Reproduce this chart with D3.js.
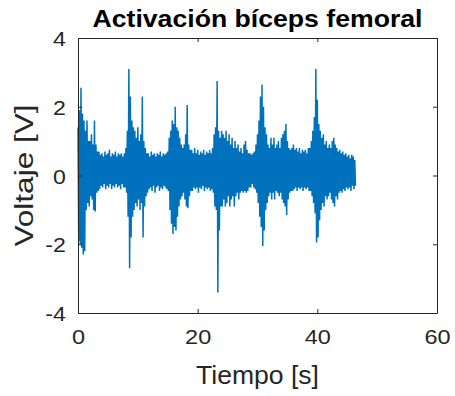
<!DOCTYPE html>
<html>
<head>
<meta charset="utf-8">
<script src="https://cdn.jsdelivr.net/npm/d3@7"></script>
<style>
  html, body { margin: 0; padding: 0; background: #fff; }
  svg { display: block; }
</style>
</head>
<body>
<svg id="chart" width="455" height="396"></svg>
<script>
// ---- data ----
const titleText = "Activación bíceps femoral";
const xLabelText = "Tiempo [s]";
const yLabelText = "Voltaje [V]";
const xTicks = [0, 20, 40, 60];
const yTicks = [-4, -2, 0, 2, 4];
const xDomain = [0, 60];
const yDomain = [-4, 4];
const sampleStep = 0.25; // s between envelope samples
// upper extreme of the signal at each sample
const vHigh = [
  1.4, 1.9, 2.55, 1.8, 1.6, 1.3, 1.6, 1.0, 1.0, 1.2, 0.9, 1.6, 0.9, 0.7,
  0.7, 0.6, 0.65, 0.55, 0.7, 0.6, 0.65, 0.75, 0.55, 0.65, 0.6, 0.7, 0.55, 0.65, 0.6, 0.65, 0.55, 0.65, 0.8,
  1.3, 3.1, 2.3, 1.6, 1.4, 1.3, 1.1, 1.4, 1.0, 1.2, 2.3, 1.0, 0.8, 0.65,
  0.65, 0.55, 0.7, 0.6, 0.65, 0.55, 0.65, 0.6, 0.7, 0.55, 0.65, 0.6, 0.65, 0.7,
  1.1, 1.3, 1.6, 1.5, 2.0, 1.4, 1.3, 1.1, 0.9, 0.8, 0.9, 1.2, 2.05, 0.9, 0.75,
  0.75, 0.65, 0.8, 0.65, 0.75, 0.6, 0.7, 0.65, 0.75, 0.6, 0.7, 0.65, 0.75, 0.65, 0.8,
  1.2, 1.4, 2.75, 1.3, 1.1, 1.3, 1.2, 1.1, 1.3, 1.0, 1.2, 0.9, 1.1, 0.8, 1.0, 0.8, 0.9, 0.7, 0.8, 0.65, 0.9, 1.0, 0.75, 0.65,
  0.65, 0.6, 0.65, 0.7, 0.9,
  1.2, 1.6, 2.3, 2.65, 2.0, 1.4, 1.2, 0.9, 0.8, 1.1,
  0.9, 1.1, 0.8, 0.9, 1.0, 0.8, 1.1, 1.2, 1.3, 1.5, 1.0, 0.8, 0.75,
  0.8, 0.9, 0.75, 0.8, 0.7, 0.8, 0.65, 0.75, 0.7, 0.75, 0.65, 0.8, 0.8, 1.0, 1.3,
  1.7, 3.1, 2.2, 1.5, 1.3, 1.1, 1.2, 0.9, 1.0,
  0.8, 0.9, 0.8, 1.0, 1.1, 0.9, 0.8, 0.7, 0.75, 0.65, 0.7, 0.6, 0.65, 0.55, 0.6, 0.5, 0.6, 0.55, 0.45
];
// lower extreme of the signal at each sample
const vLow = [
  -1.9, -2.0, -2.1, -2.3, -2.2, -1.0, -0.8, -0.9, -0.6, -0.7, -1.0, -1.05, -0.5, -0.45,
  -0.4, -0.3, -0.35, -0.25, -0.4, -0.3, -0.35, -0.25, -0.4, -0.3, -0.35, -0.25, -0.35, -0.3, -0.4, -0.25, -0.35, -0.35, -0.5,
  -1.2, -2.7, -1.8, -1.2, -1.0, -0.8, -0.9, -0.7, -1.0, -0.8, -1.8, -0.9, -0.6, -0.5,
  -0.4, -0.35, -0.45, -0.3, -0.5, -0.35, -0.3, -0.45, -0.35, -0.4, -0.3, -0.35, -0.4, -0.45,
  -1.0, -1.4, -1.7, -1.5, -1.6, -1.2, -0.9, -0.7, -0.6, -0.5, -0.7, -0.9, -0.95, -0.6, -0.45,
  -0.45, -0.35, -0.4, -0.35, -0.5, -0.35, -0.4, -0.3, -0.45, -0.35, -0.4, -0.35, -0.45, -0.4, -0.5,
  -0.9, -1.0, -3.4, -1.6, -0.9, -0.9, -0.7, -0.9, -0.8, -0.6, -0.9, -0.7, -0.6, -0.9, -0.6, -0.5, -0.7, -0.5, -0.45, -0.5, -0.45, -0.5, -0.45, -0.35,
  -0.35, -0.25, -0.35, -0.4, -0.5,
  -0.8, -1.2, -1.5, -2.05, -1.6, -1.0, -0.8, -0.6, -0.5, -0.7,
  -0.5, -0.7, -0.45, -0.5, -0.6, -0.5, -0.7, -0.8, -0.9, -1.15, -0.7, -0.5, -0.45,
  -0.45, -0.4, -0.35, -0.45, -0.35, -0.4, -0.35, -0.45, -0.35, -0.4, -0.35, -0.45, -0.45, -0.6, -0.8,
  -1.1, -1.95, -1.8, -1.3, -1.0, -0.8, -0.9, -0.6, -0.7,
  -0.6, -0.5, -0.7, -0.8, -0.9, -0.6, -0.7, -0.5, -0.45, -0.5, -0.4, -0.45, -0.35, -0.4, -0.35, -0.45, -0.3, -0.4, -0.3
];
const sampleTime = vHigh.map((_, i) => i * sampleStep);

// ---- layout ----
const svg = d3.select("#chart");
const W = 455, H = 396;
const margin = { left: 78, right: W - 437, top: 38, bottom: H - 313 };
const x = d3.scaleLinear().domain(xDomain).range([margin.left, W - margin.right]);
const y = d3.scaleLinear().domain(yDomain).range([H - margin.bottom, margin.top]);
const axisColor = "#262626";
const lineColor = "#0072BD";
const font = "Liberation Sans, Arial, Helvetica, sans-serif";
const plainFormat = d => String(d); // hyphen-minus like the original

// signal: zig-zag between upper and lower extremes
const pts = [];
sampleTime.forEach((t, i) => {
  pts.push([t, vHigh[i]]);
  pts.push([t + sampleStep / 2, vLow[i]]);
});
const line = d3.line().x(d => x(d[0])).y(d => y(d[1]));
svg.append("path")
  .attr("d", line(pts))
  .attr("fill", "none")
  .attr("stroke", lineColor)
  .attr("stroke-width", 1.5)
  .attr("stroke-linejoin", "miter")
  .attr("stroke-miterlimit", 2);

// axes (box with inward ticks)
const tickLen = 4;
const gB = svg.append("g").attr("transform", `translate(0,${y(yDomain[0])})`)
  .call(d3.axisBottom(x).tickValues(xTicks).tickFormat(plainFormat).tickSize(-tickLen).tickPadding(tickLen + 12).tickSizeOuter(0));
const gT = svg.append("g").attr("transform", `translate(0,${y(yDomain[1])})`)
  .call(d3.axisTop(x).tickValues(xTicks).tickSize(-tickLen).tickFormat("").tickSizeOuter(0));
const gL = svg.append("g").attr("transform", `translate(${x(xDomain[0])},0)`)
  .call(d3.axisLeft(y).tickValues(yTicks).tickFormat(plainFormat).tickSize(-tickLen).tickPadding(tickLen + 7).tickSizeOuter(0));
const gR = svg.append("g").attr("transform", `translate(${x(xDomain[1])},0)`)
  .call(d3.axisRight(y).tickValues(yTicks).tickSize(-tickLen).tickFormat("").tickSizeOuter(0));
[gB, gT, gL, gR].forEach(g => {
  g.select(".domain").attr("stroke", axisColor).attr("stroke-width", 1);
  g.selectAll(".tick line").attr("stroke", axisColor).attr("stroke-width", 1);
  g.selectAll(".tick text").attr("fill", axisColor)
    .attr("font-family", font).attr("font-size", 21);
});
gL.selectAll(".tick text").attr("dy", "0.36em").attr("transform", "scale(1.1,1)");
gB.selectAll(".tick text").attr("transform", "scale(1.12,1)");

// title
svg.append("text")
  .attr("x", (x(xDomain[0]) + x(xDomain[1])) / 2)
  .attr("y", 27)
  .attr("text-anchor", "middle")
  .attr("font-family", font)
  .attr("font-weight", "bold")
  .attr("font-size", 24)
  .attr("textLength", 330)
  .attr("lengthAdjust", "spacingAndGlyphs")
  .attr("fill", "#000")
  .text(titleText);

// x label
svg.append("text")
  .attr("x", (x(xDomain[0]) + x(xDomain[1])) / 2)
  .attr("y", 384)
  .attr("text-anchor", "middle")
  .attr("font-family", font)
  .attr("font-size", 25)
  .attr("textLength", 123)
  .attr("lengthAdjust", "spacingAndGlyphs")
  .attr("fill", axisColor)
  .text(xLabelText);

// y label
svg.append("text")
  .attr("transform", `translate(33,${(y(yDomain[0]) + y(yDomain[1])) / 2}) rotate(-90)`)
  .attr("text-anchor", "middle")
  .attr("font-family", font)
  .attr("font-size", 26)
  .attr("textLength", 142)
  .attr("lengthAdjust", "spacingAndGlyphs")
  .attr("fill", axisColor)
  .text(yLabelText);
</script>
</body>
</html>
